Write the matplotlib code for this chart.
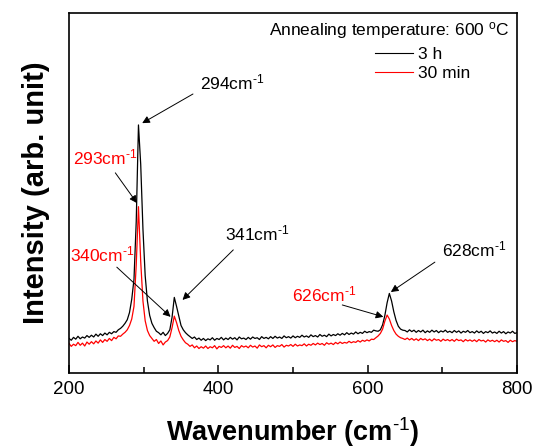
import matplotlib
matplotlib.use("Agg")
import matplotlib.pyplot as plt
import numpy as np

plt.rcParams['font.family'] = ['Liberation Sans', 'DejaVu Sans']
plt.rcParams['mathtext.fontset'] = 'custom'
plt.rcParams['mathtext.rm'] = 'Liberation Sans'
plt.rcParams['mathtext.it'] = 'Liberation Sans'
plt.rcParams['mathtext.bf'] = 'Liberation Sans:bold'

# Raman spectra, wavenumber grid (cm-1), step 3
wavenumber = np.arange(200, 801, 3)

# 3 h annealing (arb. units)
int_3h = [
    9.6, 9.1, 9.9, 9.4, 10.2, 9.5, 10.0, 9.7, 10.4, 9.9,
    10.5, 10.0, 10.8, 10.2, 10.9, 10.4, 11.1, 10.6, 11.3, 10.9,
    11.5, 11.3, 12.0, 12.4, 13.0, 13.8, 14.8, 16.8, 20.5, 26.0,
    42.0, 68.9, 58.0, 40.0, 27.0, 20.0, 16.0, 13.8, 12.6, 11.6,
    11.2, 10.6, 11.3, 10.4, 11.0, 12.0, 15.5, 21.0, 18.5, 15.8,
    13.2, 12.0, 11.2, 10.6, 10.1, 9.6, 10.0, 9.3, 9.7, 9.1,
    9.6, 9.0, 9.5, 9.2, 9.8, 9.1, 9.6, 9.3, 9.9, 9.2,
    9.7, 9.3, 9.9, 9.4, 9.8, 9.2, 10.0, 9.5, 9.7, 9.3,
    9.9, 9.4, 10.0, 9.6, 9.8, 9.3, 10.1, 9.6, 9.9, 9.5,
    10.1, 9.6, 10.2, 9.7, 10.0, 9.6, 10.3, 9.8, 10.1, 9.7,
    10.3, 9.8, 10.2, 9.9, 10.5, 10.0, 10.3, 9.9, 10.6, 10.1,
    10.4, 10.0, 10.7, 10.2, 10.5, 10.1, 10.8, 10.3, 10.7, 10.4,
    10.9, 10.5, 11.0, 10.6, 11.2, 10.7, 11.1, 10.8, 11.4, 10.9,
    11.3, 11.0, 11.6, 11.2, 11.5, 11.3, 11.9, 11.7, 11.6, 12.0,
    13.4, 16.0, 19.5, 22.1, 20.0, 17.0, 14.6, 13.0, 12.2, 11.9,
    11.8, 11.4, 12.0, 11.5, 11.9, 11.3, 11.8, 11.4, 11.9, 11.2,
    11.7, 11.3, 11.9, 11.4, 11.8, 11.2, 11.7, 11.4, 11.9, 11.3,
    11.6, 11.2, 11.8, 11.3, 11.7, 11.1, 11.6, 11.3, 11.8, 11.2,
    11.5, 11.1, 11.7, 11.2, 11.6, 11.0, 11.5, 11.2, 11.7, 11.1,
    11.4, 11.0, 11.6, 11.1, 11.5, 10.9, 11.4, 11.1, 11.6, 11.0,
    11.2,
]

# 30 min annealing (arb. units)
int_30min = [
    8.2, 7.4, 8.0, 7.6, 8.5, 7.7, 8.3, 7.5, 8.6, 8.0,
    8.7, 8.1, 8.9, 8.3, 9.2, 8.5, 9.3, 8.8, 9.6, 9.0,
    9.9, 9.5, 10.3, 10.2, 10.8, 11.3, 12.0, 13.2, 15.0, 18.5,
    30.0, 46.2, 31.0, 20.0, 14.5, 11.8, 10.4, 9.6, 8.8, 9.3,
    8.2, 8.9, 7.8, 8.6, 9.0, 10.0, 12.6, 15.8, 14.0, 11.8,
    10.2, 9.2, 8.4, 8.0, 7.4, 7.8, 7.0, 7.5, 6.8, 7.3,
    6.9, 7.5, 6.8, 7.3, 7.0, 7.6, 6.7, 7.4, 7.1, 7.6,
    7.0, 7.5, 6.9, 7.7, 7.1, 7.4, 6.8, 7.6, 7.2, 7.5,
    7.0, 7.7, 7.2, 7.5, 6.9, 7.8, 7.3, 7.6, 7.0, 7.7,
    7.3, 7.8, 7.1, 7.6, 7.4, 7.9, 7.2, 7.7, 7.5, 7.9,
    7.4, 8.0, 7.5, 7.8, 7.6, 8.1, 7.5, 8.0, 7.7, 8.2,
    7.8, 8.3, 7.9, 8.2, 7.7, 8.4, 8.0, 8.3, 7.9, 8.5,
    8.1, 8.6, 8.2, 8.5, 8.3, 8.8, 8.4, 8.7, 8.5, 9.0,
    8.6, 9.1, 8.8, 9.2, 8.9, 9.4, 9.3, 9.8, 10.3, 11.0,
    12.2, 14.4, 16.1, 15.0, 13.2, 11.8, 10.8, 10.2, 9.8, 9.6,
    9.3, 9.7, 9.2, 9.6, 9.1, 9.5, 9.0, 9.6, 9.2, 9.5,
    9.0, 9.4, 8.9, 9.5, 9.1, 9.3, 8.8, 9.4, 9.0, 9.3,
    8.9, 9.3, 8.8, 9.4, 9.0, 9.2, 8.7, 9.3, 8.9, 9.2,
    8.8, 9.2, 8.7, 9.3, 8.9, 9.1, 8.6, 9.2, 8.8, 9.1,
    8.7, 9.1, 8.6, 9.2, 8.8, 9.0, 8.5, 9.1, 8.7, 9.0,
    8.8,
]

# peak labels: (text, colour, text pos, arrow tail, arrow head)
picos = [
    ("294", "black", (375, 80.6), (366, 77.5), (298, 69.4)),
    ("293", "red", (205, 60.0), (262, 55.6), (291, 47.2)),
    ("341", "black", (409, 38.9), (420, 34.2), (352, 20.3)),
    ("340", "red", (201, 32.8), (264, 29.4), (336, 15.6)),
    ("628", "black", (699, 34.2), (690, 30.8), (631, 22.5)),
    ("626", "red", (498, 21.7), (566, 18.9), (621, 15.6)),
]

fig = plt.figure(figsize=(5.38, 4.48), dpi=100)
ax = fig.add_axes([0.1283, 0.1674, 0.8327, 0.8036])

ax.plot(wavenumber, int_3h, color='black', lw=0.9, label='3 h')
ax.plot(wavenumber, int_30min, color='red', lw=0.9, label='30 min')

for txt, cor, pos, cauda, ponta in picos:
    ax.text(pos[0], pos[1], txt + r'cm$^{\text{-1}}$', color=cor,
            fontsize=12.5, ha='left', va='center')
    ax.annotate('', xy=ponta, xytext=cauda,
                arrowprops=dict(arrowstyle='-|>', color='black', lw=0.7,
                                mutation_scale=11, shrinkA=0, shrinkB=0))

ax.text(0.984, 0.95, r'Annealing temperature: 600 $^{\mathrm{o}}$C',
        transform=ax.transAxes, ha='right', va='center', fontsize=12.5)

leg = ax.legend(loc='upper left', bbox_to_anchor=(0.683, 0.905), frameon=False,
                fontsize=12.5, handlelength=2.2, handletextpad=0.3,
                labelspacing=0.2, borderpad=0, borderaxespad=0)
for h in leg.get_lines():
    h.set_linewidth(0.8)

ax.set_xlim(200, 800)
ax.set_ylim(0, 100)
ax.set_xticks([200, 400, 600, 800])
ax.set_xticks([300, 500, 700], minor=True)
ax.set_yticks([])
ax.tick_params(axis='x', which='major', direction='in', length=6, width=1.1,
               labelsize=13.5, pad=6)
ax.tick_params(axis='x', which='minor', direction='in', length=4, width=1.1)
for s in ax.spines.values():
    s.set_linewidth(1.2)

ax.set_xlabel(r'Wavenumber (cm$^{\mathbf{\text{-1}}}$)', fontsize=19.5,
              fontweight='bold', labelpad=12)
ax.set_ylabel('Intensity (arb. unit)', fontsize=21, fontweight='bold',
              labelpad=14)

fig.savefig('out.png', dpi=100)
